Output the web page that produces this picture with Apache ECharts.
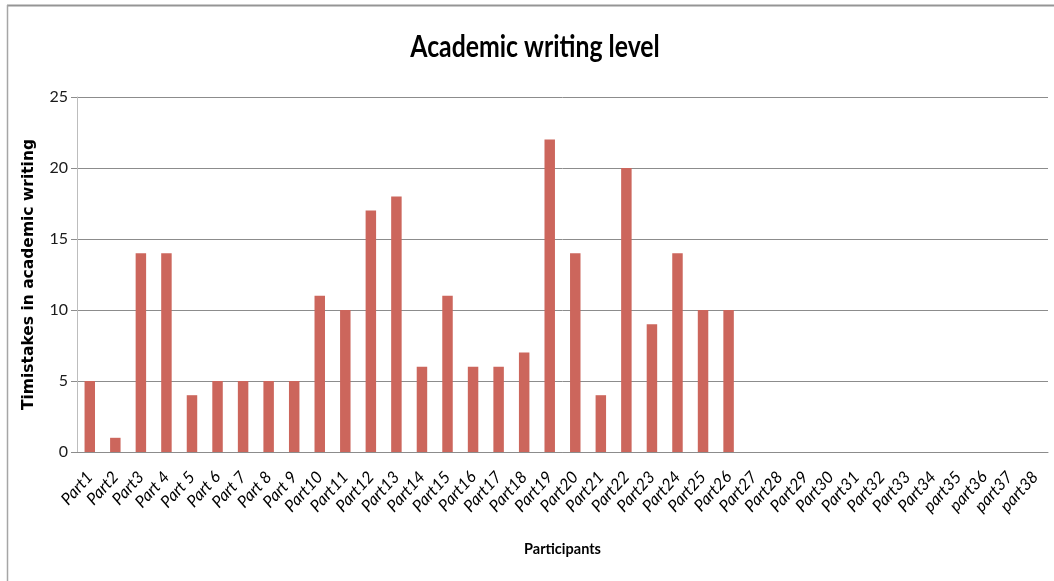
<!DOCTYPE html>
<html>
<head>
<meta charset="utf-8">
<script src="https://cdn.jsdelivr.net/npm/echarts@6/dist/echarts.min.js"></script>
<style>
  html, body { margin: 0; padding: 0; background: #ffffff; }
  #chart { width: 1054px; height: 581px; }
</style>
</head>
<body>
<div id="chart"></div>
<script>
// Participant labels along the category axis
const participants = [
  'Part1', 'Part2', 'Part3', 'Part 4', 'Part 5', 'Part 6', 'Part 7', 'Part 8', 'Part 9', 'Part10',
  'Part11', 'Part12', 'Part13', 'Part14', 'Part15', 'Part16', 'Part17', 'Part18', 'Part19', 'Part20',
  'Part21', 'Part22', 'Part23', 'Part24', 'Part25', 'Part26', 'Part27', 'Part28', 'Part29', 'Part30',
  'Part31', 'Part32', 'Part33', 'Part34', 'part35', 'part36', 'part37', 'part38'
];

// Mistakes counted per participant (participants 27-38 have no score)
const mistakes = [
  5, 1, 14, 14, 4, 5, 5, 5, 5, 11,
  10, 17, 18, 6, 11, 6, 6, 7, 22, 14,
  4, 20, 9, 14, 10, 10
];

const yTicks = { min: 0, max: 25, interval: 5 };

const chartTitle = 'Academic writing level';

const chart = echarts.init(document.getElementById('chart'), null, { renderer: 'canvas' });

chart.setOption({
  animation: false,
  backgroundColor: '#ffffff',
  grid: {
    left: 77,
    right: 6,
    top: 97,
    bottom: 129,
    containLabel: false
  },
  xAxis: {
    type: 'category',
    data: participants,
    name: 'Participants',
    nameLocation: 'middle',
    nameGap: 90,
    nameTextStyle: {
      fontFamily: 'Lato',
      fontWeight: 'bold',
      fontSize: 14.5,
      color: '#000000'
    },
    axisLine: { lineStyle: { color: '#8c8c8c', width: 1 } },
    axisTick: { show: false },
    axisLabel: {
      rotate: 48,
      interval: 0,
      margin: 22,
      fontFamily: 'Lato',
      fontStyle: 'italic',
      fontSize: 16.5,
      color: '#000000'
    }
  },
  yAxis: {
    type: 'value',
    min: yTicks.min,
    max: yTicks.max,
    interval: yTicks.interval,
    name: 'Timistakes in academic writing',
    nameLocation: 'middle',
    nameGap: 40,
    nameTextStyle: {
      fontFamily: 'DejaVu Sans',
      fontWeight: 'bold',
      fontSize: 15.5,
      color: '#000000'
    },
    axisLine: { show: true, lineStyle: { color: '#bdbdbd', width: 1 } },
    axisTick: { show: true, length: 6, lineStyle: { color: '#8c8c8c' } },
    axisLabel: {
      margin: 9,
      fontFamily: 'Lato',
      fontSize: 16,
      color: '#1a1a1a'
    },
    splitLine: { show: true, lineStyle: { color: '#8c8c8c', width: 1 } }
  },
  series: [{
    type: 'bar',
    data: mistakes,
    barWidth: '41%',
    itemStyle: { color: '#cc665c' }
  }],
  graphic: [
    {
      // condensed bold heading
      type: 'text',
      x: 535,
      y: 31,
      scaleX: 0.8,
      style: {
        text: chartTitle,
        font: 'bold 31px Lato',
        fill: '#000000',
        align: 'center',
        verticalAlign: 'top'
      }
    },
    {
      type: 'line',
      shape: { x1: 7, y1: 5.5, x2: 1054, y2: 5.5 },
      style: { stroke: '#959595', lineWidth: 2 }
    },
    {
      type: 'line',
      shape: { x1: 7.5, y1: 5, x2: 7.5, y2: 581 },
      style: { stroke: '#a6a6a6', lineWidth: 1.5 }
    }
  ]
});
</script>
</body>
</html>
